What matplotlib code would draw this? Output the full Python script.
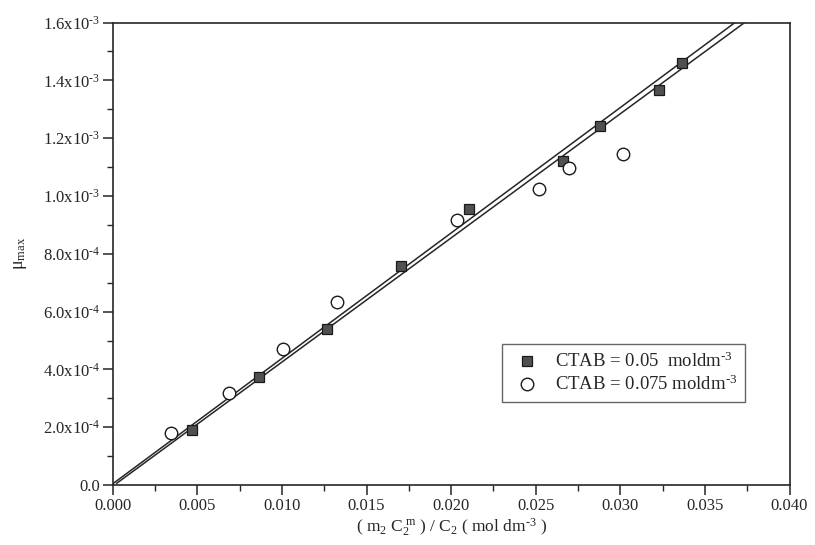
import matplotlib
matplotlib.use("Agg")
import matplotlib.pyplot as plt
import numpy as np

plt.rcParams['font.family'] = ['Liberation Serif', 'DejaVu Serif']
plt.rcParams['mathtext.fontset'] = 'custom'
plt.rcParams['mathtext.rm'] = 'Liberation Serif'
plt.rcParams['mathtext.it'] = 'Liberation Serif:italic'
plt.rcParams['mathtext.bf'] = 'Liberation Serif:bold'

# Data: CTAB = 0.05 moldm^-3 (filled squares)
x_sq = [0.00467, 0.00866, 0.01264, 0.01701, 0.02105, 0.02662, 0.02882, 0.03227, 0.03363]
y_sq = [1.90e-4, 3.75e-4, 5.39e-4, 7.59e-4, 9.55e-4, 1.122e-3, 1.242e-3, 1.367e-3, 1.460e-3]

# Data: CTAB = 0.075 moldm^-3 (open circles)
x_ci = [0.00343, 0.00687, 0.01008, 0.01327, 0.02032, 0.0252, 0.02695, 0.03016]
y_ci = [1.79e-4, 3.17e-4, 4.70e-4, 6.32e-4, 9.17e-4, 1.024e-3, 1.096e-3, 1.145e-3]

# Fitted straight lines (slope, intercept, start x)
fit_slopes = [0.0434, 0.04296]
fit_intercepts = [4e-6, -4.3e-6]
fit_x_start = [0.00004, 0.00024]

HY = '\u2010'  # hyphen for exponents, as in the original
xticks = [0.000, 0.005, 0.010, 0.015, 0.020, 0.025, 0.030, 0.035, 0.040]
xtick_labels = ['0.000', '0.005', '0.010', '0.015', '0.020', '0.025', '0.030', '0.035', '0.040']
yticks = [0.0, 2.0e-4, 4.0e-4, 6.0e-4, 8.0e-4, 1.0e-3, 1.2e-3, 1.4e-3, 1.6e-3]
ytick_labels = ['0.0', '2.0x10$^{' + HY + '4}$', '4.0x10$^{' + HY + '4}$', '6.0x10$^{' + HY + '4}$',
                '8.0x10$^{' + HY + '4}$', '1.0x10$^{' + HY + '3}$', '1.2x10$^{' + HY + '3}$',
                '1.4x10$^{' + HY + '3}$', '1.6x10$^{' + HY + '3}$']

ink = '#262626'

fig = plt.figure(figsize=(8.15, 5.45), dpi=100)
ax = fig.add_axes([112.7/815, 1-485/545, (789.5-112.7)/815, (485-22.6)/545])

xmax = 0.040
ymax = 1.6e-3
for s, b, x0 in zip(fit_slopes, fit_intercepts, fit_x_start):
    xe = (ymax - b) / s
    xs = np.array([x0, xe])
    ax.plot(xs, s*xs + b, color=ink, lw=1.1, zorder=2)

ax.plot(x_sq, y_sq, linestyle='none', marker='s', markersize=7.5,
        markerfacecolor='#505050', markeredgecolor='#1a1a1a', markeredgewidth=0.9,
        label='CTAB = 0.05  moldm$^{' + HY + '3}$', zorder=3)
ax.plot(x_ci, y_ci, linestyle='none', marker='o', markersize=9,
        markerfacecolor='white', markeredgecolor='#1a1a1a', markeredgewidth=1.0,
        label='CTAB = 0.075 moldm$^{' + HY + '3}$', zorder=3)

ax.set_xlim(0, xmax)
ax.set_ylim(0, ymax)
ax.set_xticks(xticks)
ax.set_xticklabels(xtick_labels)
ax.set_yticks(yticks)
ax.set_yticklabels(ytick_labels)
ax.set_xticks(np.arange(0.0025, 0.040, 0.005), minor=True)
ax.set_yticks(np.arange(1e-4, 1.6e-3, 2e-4), minor=True)

ax.tick_params(which='major', direction='out', length=7, width=1.1, colors=ink,
               labelsize=12, labelcolor=ink, pad=2)
ax.tick_params(which='minor', direction='out', length=4.5, width=1.0, colors=ink)
ax.tick_params(top=False, right=False, which='both')

for sp in ax.spines.values():
    sp.set_color(ink)
    sp.set_linewidth(1.2)

ax.set_ylabel('\u03bc$_{\\rm max}$', fontsize=13, color=ink, labelpad=10)
ax.set_xlabel('( m$_2$ C$_2^{\\rm\\ m}$ ) / C$_2$ ( mol dm$^{' + HY + '3}$ )', fontsize=12.5,
              color=ink, labelpad=2)

leg = ax.legend(loc='upper left', bbox_to_anchor=(501.7/815, 1-344/545),
                bbox_transform=fig.transFigure, frameon=True, fancybox=False,
                edgecolor='#404040', fontsize=13.5, handletextpad=0.5,
                borderpad=0.42, labelspacing=0.2, handlelength=1.9, borderaxespad=0)
leg.get_frame().set_linewidth(1.0)
for t in leg.get_texts():
    t.set_color(ink)

fig.savefig('out.png', dpi=100)
